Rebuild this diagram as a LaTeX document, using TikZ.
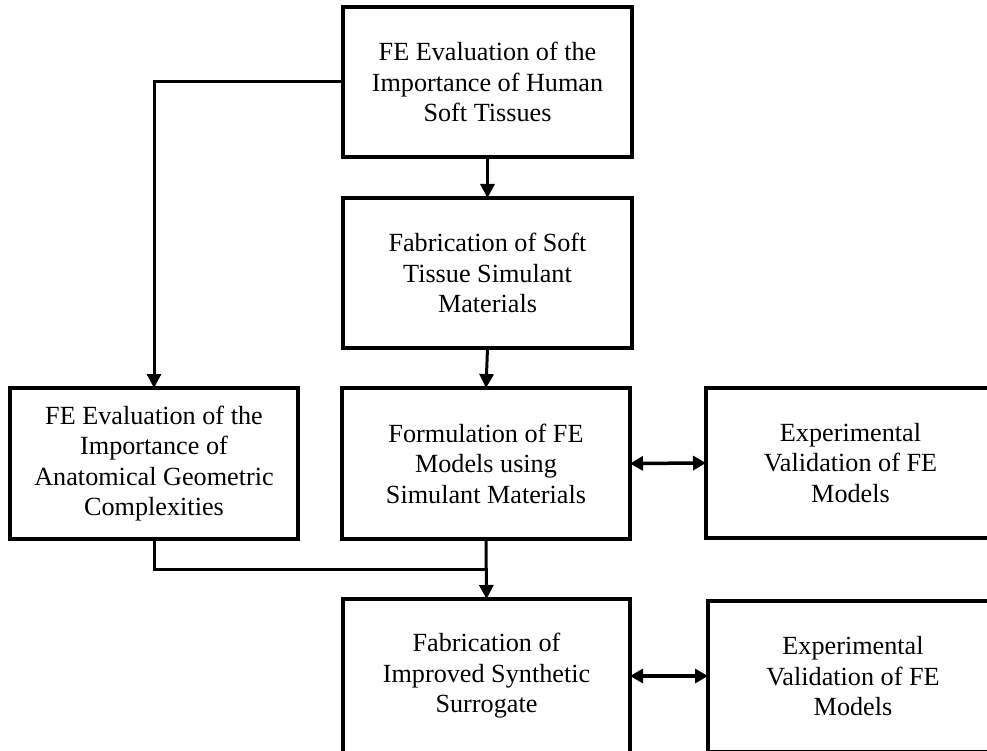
\documentclass[tikz,border=0pt]{standalone}
\usepackage{fontspec}
\setmainfont{Liberation Serif}
\usetikzlibrary{arrows.meta}
\begin{document}
\begin{tikzpicture}[x=1pt,y=-1pt,
  stagebox/.style={draw, line width=3.5pt, rectangle, inner sep=0pt, outer sep=0pt,
    align=center, font=\fontsize{26.2pt}{30.5pt}\selectfont},
  link/.style={line width=3pt, -{Triangle[width=14pt,length=14pt]}},
  twoway/.style={line width=3.5pt, {Triangle[width=14pt,length=13pt]}-{Triangle[width=14pt,length=13pt]}},
  plain/.style={line width=3pt}]
\useasboundingbox (0,0) rectangle (987,751);
% main column
\node[stagebox, minimum width=289pt, minimum height=150pt] (hum) at (487.5,82)
  {FE Evaluation of the\\Importance of Human\\Soft Tissues};
\node[stagebox, minimum width=289pt, minimum height=150pt] (fab) at (487.5,273)
  {Fabrication of Soft\\Tissue Simulant\\Materials};
\node[stagebox, minimum width=288pt, minimum height=151pt] (form) at (486,463.5)
  {Formulation of FE\\Models using\\Simulant Materials};
\node[stagebox, minimum width=287pt, minimum height=154pt] (surr) at (486.5,676)
  {Fabrication of\\Improved Synthetic\\Surrogate};
% side boxes
\node[stagebox, minimum width=288pt, minimum height=151pt] (geo) at (154,463.5)
  {FE Evaluation of the\\Importance of\\Anatomical Geometric\\Complexities};
\node[stagebox, minimum width=289pt, minimum height=150pt] (val1) at (850.5,463)
  {Experimental\\Validation of FE\\Models};
\node[stagebox, minimum width=290pt, minimum height=151pt] (val2) at (853,676.5)
  {Experimental\\Validation of FE\\Models};
% connectors
\coordinate (join) at (486,569);
\draw[link] (hum.south) -- (fab.north);
\draw[link] (fab.south) -- (form.north);
\draw[link] (hum.west) -| (geo.north);
\draw[link] (form.south) -- (surr.north);
\draw[plain] (geo.south) |- (join);
\draw[twoway] (form.east) -- (val1.west);
\draw[twoway] (surr.east) -- (surr.east -| val2.west);
\end{tikzpicture}
\end{document}
